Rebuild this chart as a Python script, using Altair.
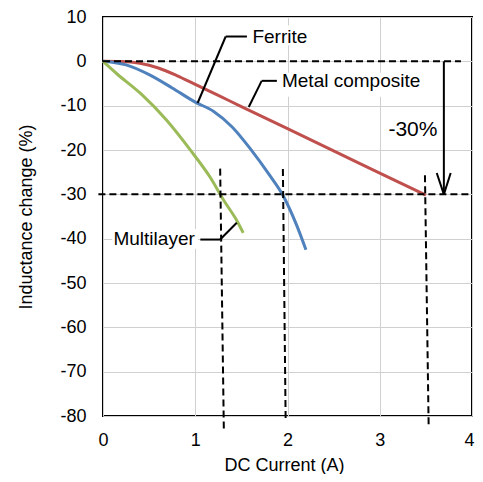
import altair as alt
import pandas as pd

FONT = "Liberation Sans"

# Curves
metal_x = [0, 0.2, 0.4, 0.6, 0.8, 1.0, 1.25, 1.5, 1.75, 2.0, 2.5, 3.0, 3.5]
metal_y = [0, -0.05, -0.45, -1.5, -3.2, -5.2, -7.7, -10.2, -12.7, -15.2, -20.2, -25.2, -30.2]
ferrite_x = [0, 0.1, 0.25, 0.5, 0.75, 1.0, 1.2, 1.4, 1.6, 1.8, 1.95, 2.1, 2.2]
ferrite_y = [0, -0.2, -0.8, -3.0, -6.0, -9.2, -11.3, -14.8, -19.8, -25.5, -30.2, -37.0, -42.5]
multi_x = [0, 0.15, 0.41, 0.69, 0.95, 1.16, 1.31, 1.45, 1.52]
multi_y = [0, -2.8, -7.3, -13.3, -20.1, -26.1, -31.4, -35.9, -38.7]

series_names = ["Metal composite", "Ferrite", "Multilayer"]
series_colors = ["#C0504D", "#4F81BD", "#9BBB59"]

# Dashed reference lines
dash_x1 = [0, -0.05, 1.27, 1.95, 3.49]
dash_y1 = [0, -30, -24.2, -24.3, -25.7]
dash_x2 = [3.88, 3.97, 1.31, 1.98, 3.53]
dash_y2 = [0, -30, -83.2, -81.0, -82.1]

# Leader lines and arrow (solid segments)
seg_x1 = [1.026, 1.33, 1.58, 1.72, 1.45, 1.27, 3.695, 3.618, 3.769]
seg_y1 = [-9.4, 5.6, -10.3, -4.4, -36.4, -40.2, 0, -25.2, -25.2]
seg_x2 = [1.33, 1.56, 1.72, 1.885, 1.27, 1.055, 3.695, 3.695, 3.695]
seg_y2 = [5.6, 5.6, -4.4, -4.4, -40.2, -40.2, -30, -30, -30]

# White label backgrounds
box_x1 = [1.59, 1.91, 0.1]
box_x2 = [2.25, 3.45, 1.03]
box_y1 = [3.6, -2.6, -37.8]
box_y2 = [8.1, -8.0, -42.3]

# Labels
lab_text = ["Ferrite", "Metal composite", "Multilayer", "-30%"]
lab_x = [1.62, 1.94, 0.995, 3.36]
lab_y = [5.5, -4.4, -40.0, -15.6]
lab_align = ["left", "left", "right", "center"]
lab_size = [19, 19, 19, 21]

x_ticks = [0, 1, 2, 3, 4]
y_ticks = [-80, -70, -60, -50, -40, -30, -20, -10, 0, 10]

rows = []
for name, xs_, ys_ in zip(series_names, [metal_x, ferrite_x, multi_x], [metal_y, ferrite_y, multi_y]):
    for i, (a, b) in enumerate(zip(xs_, ys_)):
        rows.append({"series": name, "x": a, "y": b, "o": i})
curves = pd.DataFrame(rows)

dashes = pd.DataFrame({"x": dash_x1, "y": dash_y1, "x2": dash_x2, "y2": dash_y2})
segs = pd.DataFrame({"x": seg_x1, "y": seg_y1, "x2": seg_x2, "y2": seg_y2})
boxes = pd.DataFrame({"x": box_x1, "y": box_y1, "x2": box_x2, "y2": box_y2})
labels = pd.DataFrame({"t": lab_text, "x": lab_x, "y": lab_y, "a": lab_align, "s": lab_size})

xs = alt.Scale(domain=[0, 4], nice=False)
ys = alt.Scale(domain=[-80, 10], nice=False)

x_axis = alt.Axis(values=x_ticks, labelExpr="'' + datum.value", title="DC Current (A)",
                  grid=True, gridColor="#d0d0d0",
                  ticks=False, domain=False, labelFont=FONT, labelFontSize=18,
                  labelColor="black", labelBaseline="alphabetic", labelPadding=29,
                  labelFlush=False,
                  labelOffset={"condition": {"test": "datum.value == 4", "value": -3}, "value": 0},
                  titleFont=FONT, titleFontSize=18, titleFontWeight="normal", titleColor="black",
                  titleBaseline="alphabetic", titleX=181, titleY=54)
y_axis = alt.Axis(values=y_ticks, labelExpr="'' + datum.value", title="Inductance change (%)",
                  grid=True, gridColor="#d0d0d0",
                  ticks=False, domain=False, labelFont=FONT, labelFontSize=18,
                  labelColor="black", labelPadding=17, labelFlush=False,
                  titleFont=FONT, titleFontSize=18, titleFontWeight="normal", titleColor="black",
                  titleBaseline="middle", titleX=-77, titleY=199.5)

base_axes = alt.Chart(curves).mark_line(opacity=0).encode(
    x=alt.X("x:Q", scale=xs, axis=x_axis),
    y=alt.Y("y:Q", scale=ys, axis=y_axis),
)

bg = alt.Chart(boxes).mark_rect(color="white").encode(
    x=alt.X("x:Q", scale=xs), x2="x2", y=alt.Y("y:Q", scale=ys), y2="y2")

curve_layer = alt.Chart(curves).mark_line(strokeWidth=3, interpolate="monotone").encode(
    x=alt.X("x:Q", scale=xs),
    y=alt.Y("y:Q", scale=ys),
    color=alt.Color("series:N", scale=alt.Scale(domain=series_names, range=series_colors), legend=None),
    order="o:Q",
)

dash_layer = alt.Chart(dashes).mark_rule(color="black", strokeWidth=2, strokeDash=[7, 4]).encode(
    x=alt.X("x:Q", scale=xs), x2="x2", y=alt.Y("y:Q", scale=ys), y2="y2")

seg_layer = alt.Chart(segs).mark_rule(color="black", strokeWidth=2).encode(
    x=alt.X("x:Q", scale=xs), x2="x2", y=alt.Y("y:Q", scale=ys), y2="y2")

text_layers = []
for al in ["left", "right", "center"]:
    text_layers.append(
        alt.Chart(labels[labels["a"] == al]).mark_text(
            font=FONT, color="black", align=al, baseline="middle").encode(
            x=alt.X("x:Q", scale=xs), y=alt.Y("y:Q", scale=ys), text="t:N",
            size=alt.Size("s:Q", scale=None, legend=None))
    )

chart = alt.layer(base_axes, curve_layer, bg, dash_layer, seg_layer, *text_layers).properties(
    width=369, height=399,
    autosize=alt.AutoSizeParams(type="none"),
    padding={"left": 95, "top": 9, "right": 3, "bottom": 58},
).configure_view(stroke="black", strokeWidth=2)

chart.save("out.html", embed_options={"renderer": "svg", "actions": False})
